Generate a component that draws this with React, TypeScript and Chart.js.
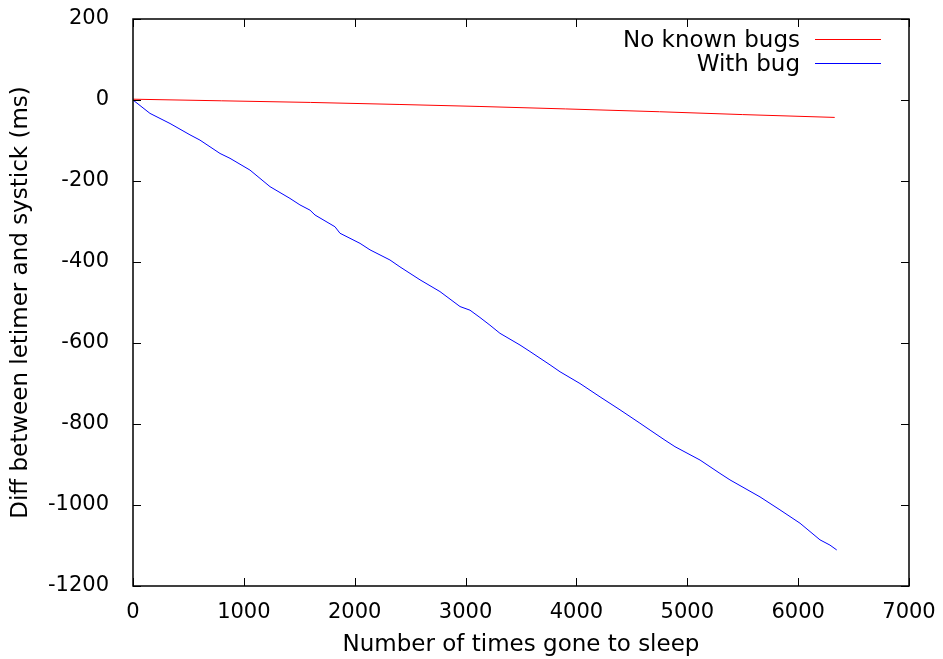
import React, { useEffect, useRef } from "react";
import { Chart, registerables } from "chart.js";

Chart.register(...registerables);

const FONT = "'DejaVu Sans', sans-serif";

const xTickValues = [0, 1000, 2000, 3000, 4000, 5000, 6000, 7000];
const yTickValues = [-1200, -1000, -800, -600, -400, -200, 0, 200];

const xTitle = "Number of times gone to sleep";
const yTitle = "Diff between letimer and systick (ms)";

const seriesLabels = ["No known bugs", "With bug"];
const seriesColors = ["#ff0000", "#0000ff"];

const noBugX = [0, 800, 1600, 2400, 3130, 3900, 4750, 5500, 6330];
const noBugY = [2, -2, -6, -11, -16, -22, -29, -36, -43];

const withBugX = [
  0, 153, 334, 514, 604, 785, 875, 1055, 1236, 1416, 1506, 1597, 1642, 1822,
  1867, 2048, 2138, 2318, 2408, 2589, 2769, 2950, 3040, 3130, 3220, 3310, 3491,
  3581, 3762, 3852, 4032, 4213, 4393, 4573, 4664, 4799, 4889, 5115, 5295, 5385,
  5656, 5836, 6017, 6197, 6287, 6348,
];
const withBugY = [
  0, -33, -58, -86, -99, -132, -144, -173, -214, -243, -259, -272, -284, -313,
  -329, -354, -370, -395, -412, -444, -473, -510, -519, -537, -556, -576, -605,
  -621, -654, -671, -700, -733, -765, -798, -815, -840, -856, -889, -922, -938,
  -980, -1012, -1045, -1086, -1099, -1111,
];

const toPoints = (xs: number[], ys: number[]) => xs.map((x, i) => ({ x, y: ys[i] }));

const framePlugin = {
  id: "gnuplotFrame",
  afterDatasetsDraw(chart: any) {
    const { ctx, chartArea } = chart;
    const { left, right, top, bottom } = chartArea;
    const xs = chart.scales.x;
    const ys = chart.scales.y;
    const TL = 8;
    ctx.save();
    ctx.strokeStyle = "#000";
    ctx.lineWidth = 1;
    ctx.beginPath();
    xTickValues.forEach((v) => {
      const px = Math.round(xs.getPixelForValue(v)) + 0.5;
      ctx.moveTo(px, bottom);
      ctx.lineTo(px, bottom - TL);
      ctx.moveTo(px, top);
      ctx.lineTo(px, top + TL);
    });
    yTickValues.forEach((v) => {
      const py = Math.round(ys.getPixelForValue(v)) + 0.5;
      ctx.moveTo(left, py);
      ctx.lineTo(left + TL, py);
      ctx.moveTo(right, py);
      ctx.lineTo(right - TL, py);
    });
    ctx.stroke();
    ctx.lineWidth = 1.5;
    ctx.strokeRect(left, top, right - left, bottom - top);
    ctx.restore();
  },
  afterDraw(chart: any) {
    const { ctx } = chart;
    ctx.save();
    ctx.font = `23px ${FONT}`;
    ctx.fillStyle = "#000";
    ctx.textAlign = "right";
    ctx.textBaseline = "alphabetic";
    const baselines = [47, 71];
    const lineYs = [39.5, 63.5];
    chart.data.datasets.forEach((ds: any, i: number) => {
      ctx.fillText(ds.label, 800, baselines[i]);
      ctx.strokeStyle = seriesColors[i];
      ctx.lineWidth = 1;
      ctx.beginPath();
      ctx.moveTo(815, lineYs[i]);
      ctx.lineTo(881, lineYs[i]);
      ctx.stroke();
    });
    ctx.restore();
  },
};

export default function App() {
  const canvasRef = useRef<HTMLCanvasElement>(null);

  useEffect(() => {
    const canvas = canvasRef.current;
    if (!canvas) return;
    const chart = new Chart(canvas, {
      type: "line",
      data: {
        datasets: [
          {
            label: seriesLabels[0],
            data: toPoints(noBugX, noBugY),
            borderColor: seriesColors[0],
            borderWidth: 1,
            pointRadius: 0,
            fill: false,
            tension: 0,
          },
          {
            label: seriesLabels[1],
            data: toPoints(withBugX, withBugY),
            borderColor: seriesColors[1],
            borderWidth: 1,
            pointRadius: 0,
            fill: false,
            tension: 0,
          },
        ],
      },
      options: {
        animation: false,
        responsive: false,
        devicePixelRatio: 1,
        layout: { padding: { top: 19, right: 34, left: 0, bottom: 0 } },
        plugins: { legend: { display: false }, tooltip: { enabled: false } },
        scales: {
          x: {
            type: "linear",
            min: 0,
            max: 7000,
            grid: { display: false },
            border: { display: false },
            afterBuildTicks: (s: any) => {
              s.ticks = xTickValues.map((value) => ({ value }));
            },
            afterFit: (s: any) => {
              s.height = 73;
              s.paddingLeft = 0;
              s.paddingRight = 0;
            },
            ticks: {
              font: { family: FONT, size: 21 },
              color: "#000",
              padding: 6,
              maxRotation: 0,
              autoSkip: false,
              callback: (v: any) => String(v),
            },
            title: {
              display: true,
              text: xTitle,
              font: { family: FONT, size: 23 },
              color: "#000",
              padding: { top: 0, bottom: 0 },
            },
          },
          y: {
            type: "linear",
            min: -1200,
            max: 200,
            grid: { display: false },
            border: { display: false },
            afterBuildTicks: (s: any) => {
              s.ticks = yTickValues.map((value) => ({ value }));
            },
            afterFit: (s: any) => {
              s.width = 133;
              s.paddingTop = 0;
              s.paddingBottom = 0;
            },
            ticks: {
              font: { family: FONT, size: 21 },
              color: "#000",
              padding: 16,
              autoSkip: false,
              callback: (v: any) => String(v),
            },
            title: {
              display: true,
              text: yTitle,
              font: { family: FONT, size: 23 },
              color: "#000",
              padding: { top: 7, bottom: 0 },
            },
          },
        },
      },
      plugins: [framePlugin],
    });
    return () => chart.destroy();
  }, []);

  return (
    <div style={{ position: "absolute", left: 0, top: 0, width: 943, height: 659, background: "#fff" }}>
      <canvas ref={canvasRef} width={943} height={659} style={{ display: "block" }} />
    </div>
  );
}
